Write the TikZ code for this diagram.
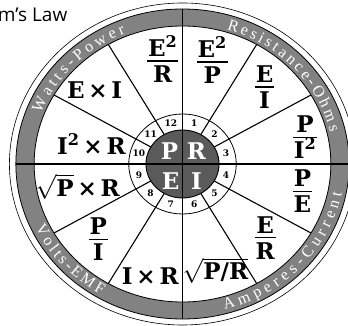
\documentclass[tikz,border=0pt]{standalone}
\usepackage{fontspec}
\setmainfont{DejaVu Serif}
\newfontfamily\bandfont{Liberation Serif}
\newfontfamily\titlefont{Open Sans}
\usetikzlibrary{decorations.text}
\definecolor{bandgray}{HTML}{828282}
\definecolor{hubgray}{HTML}{5A5A5A}
\setlength{\arrayrulewidth}{1.3pt}
\renewcommand{\arraystretch}{0}
\newcommand{\frc}[2]{\begin{tabular}{@{\hspace{1pt}}c@{\hspace{1pt}}}\rule[-4pt]{0pt}{21pt}#1\\\hline\rule[-1pt]{0pt}{22pt}#2\end{tabular}}

\begin{document}
\begin{tikzpicture}[x=1.075pt, y=1pt,
    every node/.style={inner sep=0pt, font=\bfseries\fontsize{23}{25}\selectfont},
    num/.style={font=\bfseries\fontsize{9}{9}\selectfont},
    hub/.style={text=white},
    bandtext/.style={decorate, decoration={text along path, text color=white,
        text align=fit to path, text={|\bandfont\fontsize{16}{16}\selectfont|#1}}}]
    \useasboundingbox (-182.5pt,-162pt) rectangle (165.5pt,164pt);
    \clip (-182.5pt,-162pt) rectangle (165.5pt,164pt);

    \node[font=\titlefont\fontsize{19}{19}\selectfont, anchor=base east] (title) at (-115pt,142pt) {Ohm’s Law};

    \draw[line width=0.6pt] (0,0) circle[radius=161];
    \fill[bandgray, even odd rule] (0,0) circle[radius=155] (0,0) circle[radius=138];
    \draw[line width=0.8pt] (0,0) circle[radius=155];
    \draw[line width=0.8pt] (0,0) circle[radius=138];
    \draw[line width=0.8pt] (0,0) circle[radius=50];
    \draw[line width=0.9pt, fill=hubgray] (0,0) circle[radius=34];

    \draw[line width=1.1pt] (30:34) -- (30:138);
    \draw[line width=1.1pt] (60:34) -- (60:138);
    \draw[line width=1.1pt] (120:34) -- (120:138);
    \draw[line width=1.1pt] (150:34) -- (150:138);
    \draw[line width=1.1pt] (210:34) -- (210:138);
    \draw[line width=1.1pt] (240:34) -- (240:138);
    \draw[line width=1.1pt] (300:34) -- (300:138);
    \draw[line width=1.1pt] (330:34) -- (330:138);
    \draw[line width=1.1pt] (180:155) -- (0:155);
    \draw[line width=1.1pt] (90:155) -- (270:155);

    \path[bandtext={Watts-Power}] (159:141) arc[start angle=159, end angle=112, radius=141];
    \path[bandtext={Resistance-Ohms}] (73:141) arc[start angle=73, end angle=13, radius=141];
    \path[bandtext={Volts-EMF}] (205:151) arc[start angle=205, end angle=240, radius=151];
    \path[bandtext={Amperes-Current}] (285:151) arc[start angle=285, end angle=349, radius=151];

    \node[hub] (P) at (-12,13) {P};
    \node[hub] (R) at (13,13) {R};
    \node[hub] (E) at (-11,-17) {E};
    \node[hub] (I) at (13,-17) {I};

    \node[num] (n1) at (75:42) {1};
    \node[num] (n2) at (45:42) {2};
    \node[num] (n3) at (15:42) {3};
    \node[num] (n4) at (-15:42) {4};
    \node[num] (n5) at (-45:42) {5};
    \node[num] (n6) at (-75:42) {6};
    \node[num] (n7) at (-105:42) {7};
    \node[num] (n8) at (-135:42) {8};
    \node[num] (n9) at (-165:42) {9};
    \node[num] (n10) at (165:42) {10};
    \node[num] (n11) at (135:42) {11};
    \node[num] (n12) at (105:42) {12};

    \node (EsqR) at (100:106) {\frc{E\textsuperscript{2}}{R}};
    \node (EsqP) at (75:107) {\frc{E\textsuperscript{2}}{P}};
    \node (EoI) at (45:108) {\frc{E}{I}};
    \node (PoIsq) at (13:117) {\frc{P}{I\textsuperscript{2}}};
    \node (PoE) at (346:115) {\frc{P}{E}};
    \node (EoR) at (316:107) {\frc{E}{R}};
    \node (rPoR) at (286:111) {$\sqrt{\mbox{P/R}}$};
    \node (IxR) at (255:116) {I\,×\,R};
    \node (PoI) at (224:109) {\frc{P}{I}};
    \node (rPxR) at (193:100) {$\sqrt{\mbox{P}}$\,×\,R};
    \node (IsqxR) at (167:87) {I\textsuperscript{2}\,×\,R};
    \node (ExI) at (138:110) {E\,×\,I};
\end{tikzpicture}
\end{document}
